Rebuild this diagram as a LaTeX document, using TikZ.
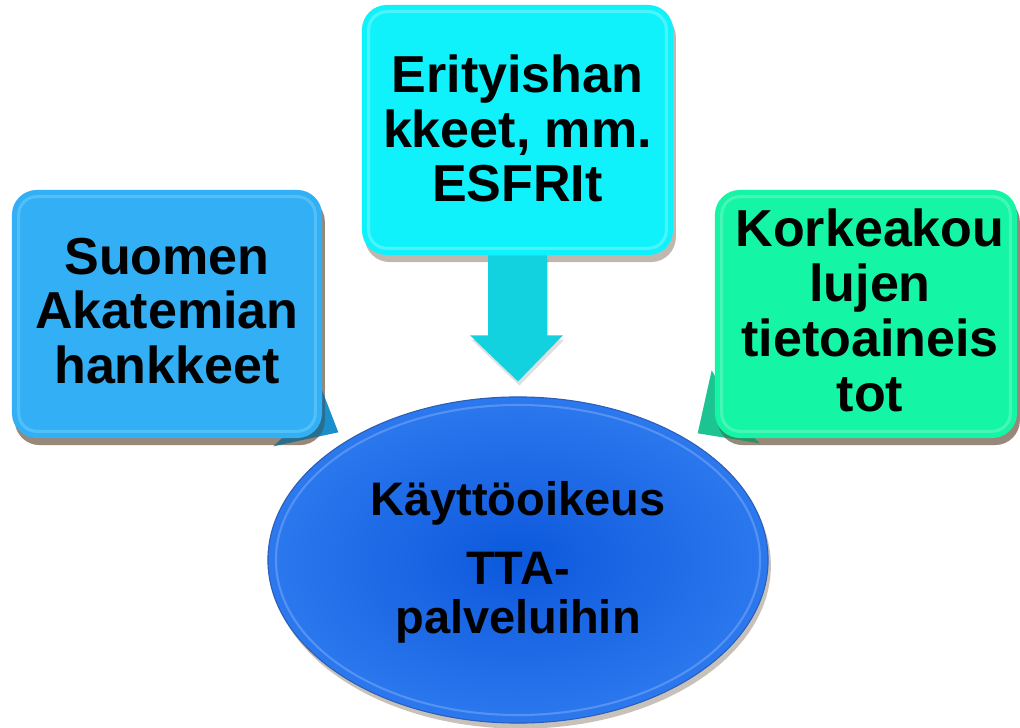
\documentclass[tikz,border=0pt]{standalone}
\usepackage{fontspec}
\setmainfont{Liberation Sans}
\usetikzlibrary{shapes.geometric,shadows,calc}
\definecolor{lbox}{HTML}{33AFF5}
\definecolor{lboxrim}{HTML}{6ACDFB}
\definecolor{ltail}{HTML}{1A8FCB}
\definecolor{tbox}{HTML}{10F2FB}
\definecolor{tboxrim}{HTML}{7DF7FC}
\definecolor{arrowc}{HTML}{12D2E0}
\definecolor{rbox}{HTML}{14F5A6}
\definecolor{rboxrim}{HTML}{6EF7C6}
\definecolor{rtail}{HTML}{1CC492}
\definecolor{ellin}{HTML}{0C58DC}
\definecolor{ellout}{HTML}{2C78EE}
\definecolor{ellrim}{HTML}{2D5FB8}
\tikzset{
  box/.style={rectangle, rounded corners=0.62cm, inner sep=0pt,
    drop shadow={shadow xshift=2pt, shadow yshift=-5pt, opacity=0.35, fill=black!60!brown}},
  rim/.style={rounded corners=0.45cm, line width=2.2pt, draw opacity=0.55},
  boxtext/.style={align=center, inner sep=0pt,
    font=\bfseries\fontsize{37}{39}\selectfont},
  elltext/.style={align=center, inner sep=0pt,
    font=\bfseries\fontsize{33.4}{34.5}\selectfont},
}
\begin{document}
\begin{tikzpicture}[x=0.025cm,y=-0.025cm]
\useasboundingbox (0,0) rectangle (1020,728);
\fill[white] (0,0) rectangle (1020,728);

% ellipse
\node[ellipse, minimum width=12.5cm, minimum height=8.15cm, inner color=ellin, outer color=ellout,
  draw=ellrim, line width=0.8pt,
  drop shadow={shadow xshift=2pt, shadow yshift=-4pt, opacity=0.3, fill=black!60!brown}] (kay) at (518,560) {};
\node[ellipse, minimum width=12.1cm, minimum height=7.75cm, draw=ellout!60!white, line width=1.5pt, draw opacity=0.5] (kayrim) at (518,560) {};

% tails (behind boxes)
\node[box, minimum width=7.75cm, minimum height=6.2cm, fill=none, drop shadow={opacity=0}] (lb0) at (167,314) {};
\node[box, minimum width=7.55cm, minimum height=6.2cm, fill=none, drop shadow={opacity=0}] (rb0) at (866,314) {};
\fill[ltail] ($(lb0.south east)+(-8,-68)$) -- ($(lb0.south east)+(16,-6)$) -- ($(lb0.south east)+(-49,8)$) -- ($(lb0.south east)+(-30,-10)$) -- cycle;
\fill[rtail] ($(rb0.south west)+(-3,-68)$) -- ($(rb0.south west)+(-17,-5)$) -- ($(rb0.south west)+(45,5)$) -- ($(rb0.south west)+(30,-10)$) -- cycle;

% boxes
\node[box, minimum width=7.75cm, minimum height=6.2cm, fill=lbox] (lb) at (167,314) {};
\draw[rim, draw=lboxrim] ($(lb.north west)+(7,7)$) rectangle ($(lb.south east)+(-7,-7)$);
\node[box, minimum width=7.775cm, minimum height=6.25cm, fill=tbox] (tb) at (517.5,130) {};
\draw[rim, draw=tboxrim] ($(tb.north west)+(7,7)$) rectangle ($(tb.south east)+(-7,-7)$);
\node[box, minimum width=7.55cm, minimum height=6.2cm, fill=rbox] (rb) at (866,314) {};
\draw[rim, draw=rboxrim] ($(rb.north west)+(7,7)$) rectangle ($(rb.south east)+(-7,-7)$);

% arrow from top box to ellipse
\coordinate (tip) at ($(kay.north)+(0,-15)$);
\fill[arrowc, drop shadow={shadow xshift=1pt, shadow yshift=-3pt, opacity=0.25}]
  ($(tb.south)+(-29.5,0)$) -- ($(tb.south)+(29.5,0)$) -- ($(tb.south)+(29.5,80)$)
  -- ($(tb.south)+(45.5,80)$) -- (tip) -- ($(tb.south)+(-47.5,80)$)
  -- ($(tb.south)+(-29.5,80)$) -- cycle;

% texts
\node[boxtext] (lt) at (167,311) {Suomen\\Akatemian\\hankkeet};
\node[boxtext] (tt) at (517.5,128.5) {Erityishan\\kkeet, mm.\\ESFRIt};
\node[boxtext] (rt) at (870,310.5) {Korkeakou\\lujen\\tietoaineis\\tot};
\node[elltext] (kt) at (518,562) {Käyttöoikeus\\[15pt]TTA-\\palveluihin};
\end{tikzpicture}
\end{document}
